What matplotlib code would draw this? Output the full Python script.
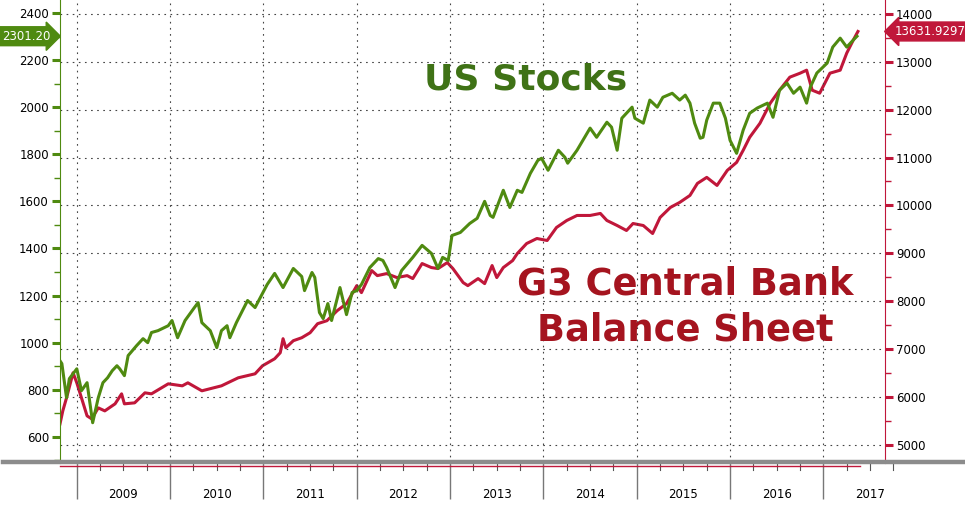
import matplotlib
matplotlib.use("Agg")
import matplotlib.pyplot as plt
import matplotlib.transforms as mtransforms
from matplotlib.lines import Line2D

# S&P 500 (left axis), dates as decimal years
spx_dates = [2008.82, 2008.84, 2008.89, 2008.92, 2009.00, 2009.05, 2009.11, 2009.17, 2009.23, 2009.28,
             2009.33, 2009.38, 2009.43, 2009.46, 2009.51, 2009.55, 2009.64, 2009.71, 2009.76, 2009.80,
             2009.87, 2009.98, 2010.02, 2010.08, 2010.16, 2010.26, 2010.30, 2010.34, 2010.43, 2010.50,
             2010.55, 2010.61, 2010.64, 2010.71, 2010.83, 2010.91, 2011.04, 2011.12, 2011.21, 2011.32,
             2011.41, 2011.44, 2011.52, 2011.55, 2011.60, 2011.64, 2011.69, 2011.73, 2011.82, 2011.89,
             2011.95, 2012.00, 2012.05, 2012.14, 2012.23, 2012.28, 2012.32, 2012.41, 2012.48, 2012.60,
             2012.70, 2012.80, 2012.87, 2012.92, 2012.98, 2013.02, 2013.11, 2013.21, 2013.29, 2013.37,
             2013.43, 2013.46, 2013.57, 2013.64, 2013.72, 2013.77, 2013.86, 2013.94, 2013.98, 2014.05,
             2014.16, 2014.23, 2014.26, 2014.36, 2014.50, 2014.57, 2014.68, 2014.73, 2014.79, 2014.84,
             2014.95, 2014.98, 2015.07, 2015.14, 2015.22, 2015.28, 2015.38, 2015.46, 2015.52, 2015.57,
             2015.62, 2015.68, 2015.71, 2015.75, 2015.82, 2015.89, 2015.95, 2016.00, 2016.07, 2016.14,
             2016.21, 2016.29, 2016.40, 2016.46, 2016.53, 2016.61, 2016.68, 2016.75, 2016.82, 2016.86,
             2016.93, 2017.04, 2017.10, 2017.18, 2017.25, 2017.32, 2017.36]
spx_values = [923, 911, 766, 847, 889, 796, 830, 660, 766, 830,
              851, 881, 902, 889, 860, 945, 987, 1017, 1000, 1043,
              1051, 1072, 1094, 1021, 1094, 1149, 1170, 1085, 1051, 979,
              1051, 1072, 1021, 1085, 1179, 1149, 1247, 1294, 1234, 1315,
              1281, 1221, 1298, 1277, 1128, 1102, 1166, 1094, 1234, 1119,
              1213, 1221, 1247, 1319, 1357, 1349, 1319, 1234, 1306, 1362,
              1413, 1379, 1315, 1362, 1349, 1455, 1468, 1506, 1528, 1600,
              1540, 1532, 1647, 1574, 1647, 1638, 1719, 1774, 1783, 1732,
              1817, 1787, 1762, 1817, 1911, 1872, 1936, 1915, 1817, 1953,
              2000, 1953, 1932, 2030, 2000, 2042, 2059, 2030, 2051, 2017,
              1932, 1868, 1872, 1945, 2017, 2017, 1953, 1859, 1804, 1902,
              1974, 1996, 2017, 1957, 2072, 2102, 2059, 2085, 2017, 2085,
              2145, 2187, 2255, 2293, 2255, 2285, 2301.20]

# G3 central bank balance sheet (right axis)
cb_dates = [2008.82, 2008.85, 2008.89, 2008.96, 2009.00, 2009.05, 2009.11, 2009.16, 2009.23, 2009.30,
            2009.41, 2009.48, 2009.51, 2009.62, 2009.73, 2009.80, 2009.98, 2010.13, 2010.19, 2010.34,
            2010.55, 2010.73, 2010.91, 2010.99, 2011.12, 2011.18, 2011.21, 2011.24, 2011.32, 2011.41,
            2011.50, 2011.58, 2011.68, 2011.79, 2011.89, 2012.00, 2012.05, 2012.16, 2012.22, 2012.32,
            2012.43, 2012.54, 2012.60, 2012.70, 2012.80, 2012.87, 2012.97, 2013.03, 2013.14, 2013.19,
            2013.30, 2013.37, 2013.45, 2013.50, 2013.57, 2013.67, 2013.72, 2013.82, 2013.93, 2014.04,
            2014.14, 2014.25, 2014.36, 2014.50, 2014.61, 2014.68, 2014.79, 2014.89, 2014.96, 2015.07,
            2015.17, 2015.25, 2015.36, 2015.46, 2015.57, 2015.65, 2015.75, 2015.86, 2015.97, 2016.07,
            2016.14, 2016.21, 2016.32, 2016.43, 2016.53, 2016.64, 2016.75, 2016.82, 2016.88, 2016.96,
            2017.07, 2017.18, 2017.25, 2017.32, 2017.37]
cb_values = [5439, 5711, 5983, 6506, 6297, 5983, 5607, 5544, 5774, 5711,
             5858, 6067, 5858, 5879, 6088, 6067, 6276, 6234, 6297, 6130,
             6234, 6402, 6485, 6653, 6799, 6925, 7218, 7029, 7176, 7238,
             7343, 7531, 7594, 7803, 7950, 8326, 8180, 8640, 8535, 8577,
             8494, 8535, 8473, 8787, 8703, 8682, 8807, 8682, 8389, 8326,
             8473, 8368, 8745, 8494, 8703, 8849, 8996, 9205, 9310, 9268,
             9540, 9686, 9791, 9791, 9833, 9686, 9581, 9477, 9623, 9581,
             9414, 9749, 9958, 10063, 10209, 10460, 10586, 10418, 10732, 10899,
             11150, 11422, 11715, 12134, 12406, 12678, 12761, 12824, 12406, 12343,
             12761, 12824, 13180, 13452, 13631.9297]

years = [2009, 2010, 2011, 2012, 2013, 2014, 2015, 2016, 2017]
left_ticks = [600, 800, 1000, 1200, 1400, 1600, 1800, 2000, 2200, 2400]
right_ticks = [5000, 6000, 7000, 8000, 9000, 10000, 11000, 12000, 13000, 14000]

GREEN = "#4f8a10"
RED = "#c0173a"

fig = plt.figure(figsize=(9.65, 5.07), dpi=100)
ax = fig.add_axes([60 / 965, 44 / 507, 825 / 965, 463 / 507])
ax2 = ax.twinx()
ax.set_zorder(ax2.get_zorder() + 1)
ax.patch.set_visible(False)

ax2.plot(cb_dates, cb_values, color=RED, lw=2.2, solid_joinstyle="round")
ax.plot(spx_dates, spx_values, color=GREEN, lw=2.2, solid_joinstyle="round")

# y axes
ax.set_yticks(left_ticks)
ax.set_yticks([v - 100 for v in left_ticks], minor=True)
ax.tick_params(axis="y", which="major", colors=GREEN, length=6, width=2.2, labelsize=8.5, pad=2)
ax.tick_params(axis="y", which="minor", colors=GREEN, length=4, width=1)
for t in ax.get_yticklabels():
    t.set_color("black")
ax2.set_yticks(right_ticks)
ax2.set_yticks([v - 500 for v in right_ticks], minor=True)
ax2.tick_params(axis="y", which="major", colors=RED, length=6, width=2.2, labelsize=8.5, pad=2)
ax2.tick_params(axis="y", which="minor", colors=RED, length=4, width=1)
for t in ax2.get_yticklabels():
    t.set_color("black")
ax2.yaxis.grid(True, linestyle=(0, (1.5, 4)), color="#444444", lw=0.8)

# x axis: year boundaries, labels centred in each year
ax.set_xticks(years)
ax.set_xticklabels([])
ax.set_xticks([y + 0.5 for y in years], minor=True)
ax.set_xticklabels([str(y) for y in years], minor=True)
ax.tick_params(axis="x", which="major", colors="#777777", length=26, width=1)
ax.tick_params(axis="x", which="minor", length=0, labelsize=8.5, pad=18)
ax.xaxis.grid(True, which="major", linestyle=(0, (1.5, 4)), color="#444444", lw=0.8)

# limits last, so the tick setters cannot widen them
ax.set_xlim(2008.82, 2017.66)
ax.set_ylim(489, 2455)
ax2.set_ylim(4623, 14289)

# quarterly small ticks under the axis
trans = mtransforms.blended_transform_factory(ax.transData, ax.transAxes)
for y in years:
    for q in (0.25, 0.5, 0.75):
        ax.plot([y + q, y + q], [0, -0.016], color="#555555", lw=0.8, transform=trans, clip_on=False)

for a in (ax, ax2):
    a.spines["top"].set_visible(False)
    a.spines["bottom"].set_visible(False)
ax.spines["left"].set_color(GREEN)
ax.spines["right"].set_visible(False)
ax2.spines["left"].set_visible(False)
ax2.spines["right"].set_color(RED)

# gray band at the bottom of the plot
fig.add_artist(Line2D([0.003, 1.0], [45 / 507, 45 / 507], transform=fig.transFigure,
                      color="#8c8c8c", lw=3.2))
fig.add_artist(Line2D([60 / 965, 860 / 965], [41.5 / 507, 41.5 / 507], transform=fig.transFigure,
                      color=RED, lw=1.0))

# last value tags
btrans = mtransforms.blended_transform_factory(ax.transAxes, ax.transData)
ax.text(-0.012, spx_values[-1], "%.2f" % spx_values[-1], transform=btrans, ha="right", va="center",
        color="white", fontsize=8.5,
        bbox=dict(boxstyle="rarrow,pad=0.25", fc=GREEN, ec=GREEN), clip_on=False)
btrans2 = mtransforms.blended_transform_factory(ax2.transAxes, ax2.transData)
ax2.text(1.012, cb_values[-1], "%.4f" % cb_values[-1], transform=btrans2, ha="left", va="center",
         color="white", fontsize=8.5,
         bbox=dict(boxstyle="larrow,pad=0.25", fc=RED, ec=RED), clip_on=False)

# annotations
fig.text(526 / 965, 1 - 80 / 507, "US Stocks", color="#3f7216", fontsize=26,
         fontweight="bold", ha="center", va="center")
fig.text(685 / 965, 1 - 307 / 507, "G3 Central Bank\nBalance Sheet", color="#a5141f",
         fontsize=26.5, fontweight="bold", ha="center", va="center", linespacing=1.3)

fig.savefig("out.png", dpi=100)
